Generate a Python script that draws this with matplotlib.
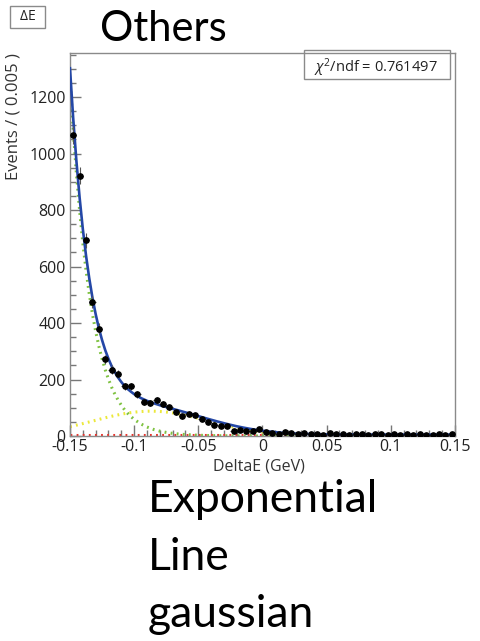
import matplotlib

matplotlib.use("Agg")
import matplotlib.pyplot as plt
import numpy as np
from matplotlib.patches import Rectangle
from matplotlib.ticker import MultipleLocator

# ==================== data ====================
# bin centres (GeV) and counts per 0.005 GeV bin
BIN_CENTERS = [
    -0.1475, -0.1425, -0.1375, -0.1325, -0.1275, -0.1225, -0.1175, -0.1125, -0.1075, -0.1025,
    -0.0975, -0.0925, -0.0875, -0.0825, -0.0775, -0.0725, -0.0675, -0.0625, -0.0575, -0.0525,
    -0.0475, -0.0425, -0.0375, -0.0325, -0.0275, -0.0225, -0.0175, -0.0125, -0.0075, -0.0025,
    0.0025, 0.0075, 0.0125, 0.0175, 0.0225, 0.0275, 0.0325, 0.0375, 0.0425, 0.0475,
    0.0525, 0.0575, 0.0625, 0.0675, 0.0725, 0.0775, 0.0825, 0.0875, 0.0925, 0.0975,
    0.1025, 0.1075, 0.1125, 0.1175, 0.1225, 0.1275, 0.1325, 0.1375, 0.1425, 0.1475,
]
COUNTS = [
    1066, 922, 693, 475, 380, 271, 235, 219, 176, 176,
    148, 119, 116, 126, 112, 101, 84, 70, 78, 74,
    60, 48, 40, 37, 34, 19, 22, 18, 18, 25,
    15, 12, 7, 15, 12, 7, 9, 6, 8, 5,
    9, 6, 7, 5, 8, 6, 5, 7, 6, 5,
    7, 5, 6, 5, 6, 5, 5, 6, 5, 6,
]

# fit components
CURVE_X = [
    -0.15, -0.1475, -0.145, -0.1425, -0.14, -0.1375, -0.135, -0.1325, -0.13, -0.1275,
    -0.125, -0.1225, -0.12, -0.1175, -0.115, -0.1125, -0.11, -0.1075, -0.105, -0.1025, -0.10,
    -0.095, -0.09, -0.085, -0.08, -0.075, -0.07, -0.065, -0.06, -0.055, -0.05,
    -0.045, -0.04, -0.035, -0.03, -0.025, -0.02, -0.015, -0.01, -0.005, 0.0,
    0.005, 0.01, 0.015, 0.02, 0.025, 0.03, 0.035, 0.04, 0.045, 0.05,
    0.055, 0.06, 0.065, 0.07, 0.075, 0.08, 0.085, 0.09, 0.095, 0.10,
    0.105, 0.11, 0.115, 0.12, 0.125, 0.13, 0.135, 0.14, 0.145, 0.15,
]
EXPONENTIAL = [
    1264, 1084, 930, 798, 684, 587, 504, 432, 371, 318,
    273, 234, 201, 172, 148, 127, 109, 93, 80, 69, 59,
    43.3, 31.8, 23.4, 17.2, 12.7, 9.3, 6.9, 5.1, 3.7, 2.7,
    2.0, 1.5, 1.1, 0.8, 0.6, 0.4, 0.3, 0.2, 0.2, 0.1,
    0.1, 0.1, 0, 0, 0, 0, 0, 0, 0, 0,
    0, 0, 0, 0, 0, 0, 0, 0, 0, 0,
    0, 0, 0, 0, 0, 0, 0, 0, 0, 0,
]
GAUSSIAN = [
    33.0, 35.6, 38.4, 41.1, 44.0, 46.9, 49.8, 52.8, 55.7, 58.7,
    61.6, 64.5, 67.3, 69.9, 72.5, 74.9, 77.2, 79.3, 81.2, 82.9, 84.4,
    86.6, 87.8, 87.9, 86.9, 84.9, 81.9, 78.1, 73.5, 68.3, 62.8,
    56.9, 51.0, 45.1, 39.5, 34.1, 29.0, 24.5, 20.4, 16.7, 13.6,
    10.9, 8.6, 6.7, 5.2, 4.0, 3.0, 2.2, 1.6, 1.2, 0.9,
    0.6, 0.4, 0.3, 0.2, 0.1, 0.1, 0, 0, 0, 0,
    0, 0, 0, 0, 0, 0, 0, 0, 0, 0,
]
LINE_LEVEL = 5.0
BIN_WIDTH = 0.005

CHI2_TEXT = r"$\chi^2$/ndf = 0.761497"
TITLE = "Others"
NOTES = ["Exponential", "Line", "gaussian"]

BIG_FONT = ["Lato", "DejaVu Sans"]
AXIS_FONT = ["Open Sans", "DejaVu Sans"]


def main() -> None:
    plt.rcParams["font.family"] = AXIS_FONT
    plt.rcParams["mathtext.fontset"] = "custom"
    plt.rcParams["mathtext.rm"] = "Open Sans"
    plt.rcParams["mathtext.it"] = "Open Sans:italic"

    fig = plt.figure(figsize=(4.81, 6.41), dpi=100)
    ax = fig.add_axes([0.1455, 0.3198, 0.8004, 0.5975])

    x_curve = np.asarray(CURVE_X)
    expo = np.asarray(EXPONENTIAL, dtype=float)
    gaus = np.asarray(GAUSSIAN, dtype=float)
    line = np.full_like(x_curve, LINE_LEVEL)
    total = expo + gaus + line

    dotted = (0, (0.6, 1.4))
    ax.plot(x_curve, line, color="#e8342c", lw=2.2, ls=dotted, zorder=2)
    ax.plot(x_curve, gaus, color="#ece83a", lw=2.2, ls=dotted, zorder=2)
    ax.plot(x_curve, expo, color="#7fc241", lw=2.2, ls=dotted, zorder=2)
    ax.plot(x_curve, total, color="#2447a6", lw=1.9, zorder=3)

    counts = np.asarray(COUNTS, dtype=float)
    ax.errorbar(
        BIN_CENTERS, counts,
        xerr=BIN_WIDTH / 2, yerr=np.sqrt(counts),
        fmt="o", ms=3.8, color="black", ecolor="#555555", elinewidth=0.8,
        capsize=0, zorder=4,
    )

    ax.set_xlim(-0.15, 0.15)
    ax.set_ylim(0, 1356)
    ax.xaxis.set_minor_locator(MultipleLocator(0.01))
    ax.yaxis.set_major_locator(MultipleLocator(200))
    ax.yaxis.set_minor_locator(MultipleLocator(50))
    ax.set_xticks([-0.15, -0.1, -0.05, 0, 0.05, 0.1, 0.15])
    ax.set_xticklabels(["-0.15", "-0.1", "-0.05", "0", "0.05", "0.1", "0.15"])
    ax.tick_params(which="both", direction="in", colors="#777777",
                   labelcolor="#222222", labelsize=11.5)
    ax.tick_params(which="major", length=8, width=1)
    ax.tick_params(which="minor", length=4, width=1)
    ax.tick_params(axis="x", pad=2)
    ax.tick_params(axis="y", pad=3)
    for spine in ax.spines.values():
        spine.set_color("#8a8a8a")
        spine.set_linewidth(1.0)

    ax.set_xlabel("DeltaE (GeV)", fontsize=11.5, color="#333333", labelpad=0)
    ax.xaxis.set_label_coords(0.49, -0.058)
    ax.set_ylabel("Events / ( 0.005 )", fontsize=12, color="#333333", loc="top")
    ax.yaxis.set_label_coords(-0.125, 1.0)

    # chi2 box
    fig.text(0.782, 0.895, CHI2_TEXT, fontsize=10.5, color="#222222",
             ha="center", va="center")
    fig.add_artist(Rectangle((304 / 481, 1 - 79 / 641), 146 / 481, 29 / 641,
                             transform=fig.transFigure, fill=False,
                             edgecolor="#8a8a8a", lw=1.0))

    # Delta E tag in upper-left corner
    fig.text(27.5 / 481, 1 - 17 / 641, r"$\Delta$E", fontsize=10, color="#222222",
             ha="center", va="center")
    fig.add_artist(Rectangle((10 / 481, 1 - 28 / 641), 35 / 481, 22 / 641,
                             transform=fig.transFigure, fill=False,
                             edgecolor="#8a8a8a", lw=1.0))

    fig.text(100 / 481, 1 - 41 / 641, TITLE, fontsize=30, family=BIG_FONT,
             ha="left", va="baseline")
    for i, note in enumerate(NOTES):
        fig.text(148 / 481, 1 - (512 + 57.5 * i) / 641, note, fontsize=32,
                 family=BIG_FONT, ha="left", va="baseline")

    fig.savefig("out.png", dpi=100)


if __name__ == "__main__":
    main()
